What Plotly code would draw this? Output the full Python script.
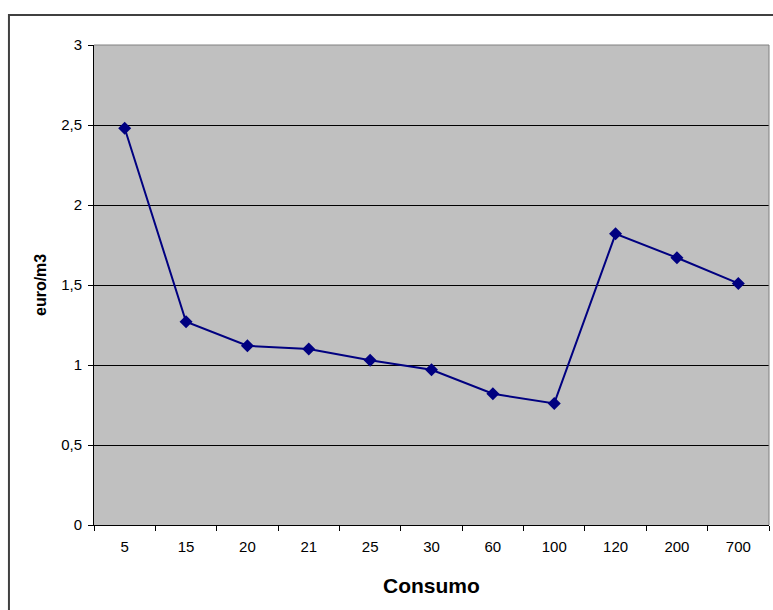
import plotly.graph_objects as go

# Consumption bands and unit price (euro per cubic metre)
consumo = ["5", "15", "20", "21", "25", "30", "60", "100", "120", "200", "700"]
euro_m3 = [2.48, 1.27, 1.12, 1.10, 1.03, 0.97, 0.82, 0.76, 1.82, 1.67, 1.51]
y_ticks = [0, 0.5, 1, 1.5, 2, 2.5, 3]

fig = go.Figure()
fig.add_trace(go.Scatter(
    x=consumo, y=euro_m3, mode="lines+markers",
    line=dict(color="#000080", width=2),
    marker=dict(symbol="diamond", size=10, color="#000080"),
    showlegend=False,
))

font = "Liberation Sans, Arial, sans-serif"
fig.update_layout(
    width=773, height=610,
    margin=dict(l=94, r=4, t=45, b=85),
    paper_bgcolor="white", plot_bgcolor="#C0C0C0",
    separators=",.",
    font=dict(family=font, size=15, color="black"),
    xaxis=dict(
        type="category", range=[-0.5, len(consumo) - 0.5],
        tickson="boundaries", ticks="outside", ticklen=5,
        tickcolor="black", showgrid=False, showline=True, linecolor="black",
        linewidth=1, ticklabelstandoff=8, tickfont=dict(size=15),
    ),
    yaxis=dict(
        range=[0, 3], tickvals=y_ticks, ticks="outside", ticklen=5,
        tickcolor="black", showgrid=True, gridcolor="black", gridwidth=1,
        showline=True, linecolor="black", linewidth=1, zeroline=False,
        ticklabelstandoff=3, tickfont=dict(size=15),
    ),
    shapes=[
        # plot area frame (top and right edges)
        dict(type="line", xref="paper", yref="paper", x0=0, x1=1, y0=1, y1=1,
             line=dict(color="#808080", width=1)),
        dict(type="line", xref="paper", yref="paper", x0=1, x1=1, y0=0, y1=1,
             line=dict(color="#808080", width=1)),
        # chart border
        dict(type="rect", xref="paper", yref="paper",
             x0=-0.126, x1=1.2, y0=-0.2, y1=1.0625,
             line=dict(color="#404040", width=2), layer="below"),
    ],
    annotations=[
        dict(text="<b>euro/m3</b>", xref="paper", yref="paper",
             x=-0.080, y=0.5, xanchor="center", yanchor="middle",
             textangle=-90, showarrow=False, font=dict(size=16)),
        dict(text="<b>Consumo</b>", xref="paper", yref="paper",
             x=0.5, y=-0.125, xanchor="center", yanchor="middle",
             showarrow=False, font=dict(size=21)),
    ],
)

fig.write_html("out.html")
